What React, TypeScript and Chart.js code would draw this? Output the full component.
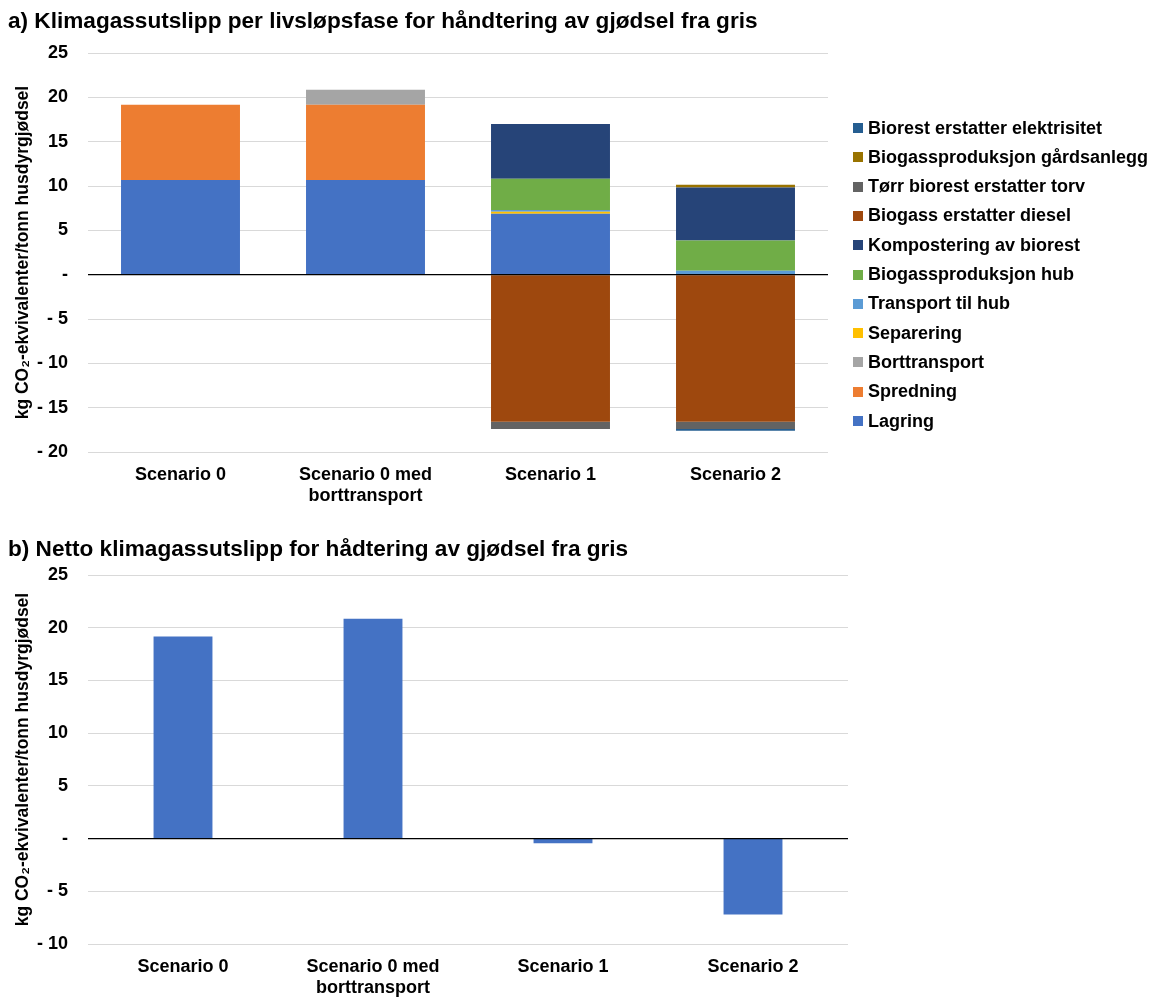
import React, { useEffect, useRef } from 'react';
import { Chart, registerables } from 'chart.js';

Chart.register(...registerables);

const categories: string[][] = [['Scenario 0'], ['Scenario 0 med', 'borttransport'], ['Scenario 1'], ['Scenario 2']];

const lagring = [10.7, 10.7, 6.88, 0];
const spredning = [8.47, 8.47, 0, 0];
const borttransport = [0, 1.69, 0, 0];
const separering = [0, 0, 0.22, 0];
const transportHub = [0, 0, 0.2, 0.45];
const biogassHub = [0, 0, 3.52, 3.42];
const kompostering = [0, 0, 6.18, 5.98];
const dieselErstatning = [0, 0, -16.6, -16.6];
const torvErstatning = [0, 0, -0.8, -0.8];
const gardsanlegg = [0, 0, 0, 0.3];
const elektrisitet = [0, 0, 0, -0.2];

const netto = [19.17, 20.87, -0.45, -7.2];

const seriesNames = [
  'Lagring',
  'Spredning',
  'Borttransport',
  'Separering',
  'Transport til hub',
  'Biogassproduksjon hub',
  'Kompostering av biorest',
  'Biogass erstatter diesel',
  'Tørr biorest erstatter torv',
  'Biogassproduksjon gårdsanlegg',
  'Biorest erstatter elektrisitet',
];
const seriesValues = [
  lagring, spredning, borttransport, separering, transportHub, biogassHub,
  kompostering, dieselErstatning, torvErstatning, gardsanlegg, elektrisitet,
];
const seriesColors = [
  '#4472C4', '#ED7D31', '#A5A5A5', '#FFC000', '#5B9BD5', '#70AD47',
  '#264478', '#9E480E', '#636363', '#997300', '#255E91',
];

const titleA = 'a) Klimagassutslipp per livsløpsfase for håndtering av gjødsel fra gris';
const titleB = 'b) Netto klimagassutslipp for hådtering av gjødsel fra gris';
const yTitle = 'kg CO₂-ekvivalenter/tonn husdyrgjødsel';

const FONT = "'Liberation Sans', Arial, sans-serif";

const zeroLine = {
  id: 'zeroLine',
  afterDatasetsDraw(chart: any) {
    const y = chart.scales.y.getPixelForValue(0);
    const { left, right } = chart.chartArea;
    const ctx = chart.ctx;
    ctx.save();
    ctx.strokeStyle = '#000';
    ctx.lineWidth = 1.3;
    ctx.beginPath();
    ctx.moveTo(left, y);
    ctx.lineTo(right, y);
    ctx.stroke();
    ctx.restore();
  },
};

function tickFmt(v: any) {
  const n = Number(v);
  if (n === 0) return '-';
  if (n < 0) return '- ' + Math.abs(n);
  return String(n);
}

function makeOptions(title: string, min: number, max: number, titlePad: any, padRight: number, xHeight: number) {
  return {
    responsive: false,
    animation: false as const,
    layout: { padding: { left: 0, right: padRight, top: 0, bottom: 0 } },
    plugins: {
      legend: { display: false },
      tooltip: { enabled: false },
      title: {
        display: true,
        text: title,
        align: 'start' as const,
        color: '#000',
        font: { family: FONT, size: 22.6, weight: 'bold' as const },
        padding: titlePad,
      },
    },
    scales: {
      x: {
        stacked: true,
        grid: { display: false, drawTicks: false },
        border: { display: false },
        ticks: { color: '#000', font: { family: FONT, size: 18, weight: 'bold' as const }, padding: 12, maxRotation: 0, autoSkip: false },
        afterFit: (s: any) => { s.height = xHeight; },
      },
      y: {
        stacked: true,
        min, max,
        grid: { color: '#d9d9d9', drawTicks: false, lineWidth: 1 },
        border: { display: false },
        ticks: { stepSize: 5, color: '#000', font: { family: FONT, size: 18, weight: 'bold' as const }, padding: 20, callback: tickFmt },
        title: { display: true, text: yTitle, color: '#000', font: { family: FONT, size: 17.5, weight: 'bold' as const }, padding: { top: 5, bottom: 0 } },
        afterFit: (s: any) => { s.width = 80; },
      },
    },
  };
}

export default function App() {
  const refA = useRef<HTMLCanvasElement>(null);
  const refB = useRef<HTMLCanvasElement>(null);

  useEffect(() => {
    const chartA = new Chart(refA.current!, {
      type: 'bar',
      data: {
        labels: categories,
        datasets: seriesNames.map((name, i) => ({
          label: name,
          data: seriesValues[i],
          backgroundColor: seriesColors[i],
          borderWidth: 0,
          categoryPercentage: 1,
          barPercentage: 0.643,
        })),
      },
      options: makeOptions(titleA, -20, 25, { top: 0, bottom: 18 }, 325, 56) as any,
      plugins: [zeroLine],
    });
    const chartB = new Chart(refB.current!, {
      type: 'bar',
      data: {
        labels: categories,
        datasets: [{
          label: 'Netto',
          data: netto,
          backgroundColor: '#4472C4',
          borderWidth: 0,
          categoryPercentage: 1,
          barPercentage: 0.31,
        }],
      },
      options: makeOptions(titleB, -10, 25, { top: 6, bottom: 12 }, 305, 53) as any,
      plugins: [zeroLine],
    });
    return () => { chartA.destroy(); chartB.destroy(); };
  }, []);

  const legendItems = seriesNames.map((n, i) => ({ name: n, color: seriesColors[i] })).reverse();

  return (
    <div style={{ position: 'absolute', left: 0, top: 0, width: 1153, height: 997, background: '#fff', fontFamily: FONT }}>
      <canvas ref={refA} width={1145} height={500} style={{ position: 'absolute', left: 8, top: 8, width: 1145, height: 500 }} />
      <canvas ref={refB} width={1145} height={467} style={{ position: 'absolute', left: 8, top: 530, width: 1145, height: 467 }} />
      {legendItems.map((it, i) => (
        <div key={it.name} style={{ position: 'absolute', left: 853, top: 128 + i * 29.3 - 11, height: 22, display: 'flex', alignItems: 'center', whiteSpace: 'nowrap' }}>
          <span style={{ display: 'inline-block', width: 10, height: 10, background: it.color, marginRight: 5 }} />
          <span style={{ fontSize: 18, fontWeight: 'bold', color: '#000' }}>{it.name}</span>
        </div>
      ))}
    </div>
  );
}
